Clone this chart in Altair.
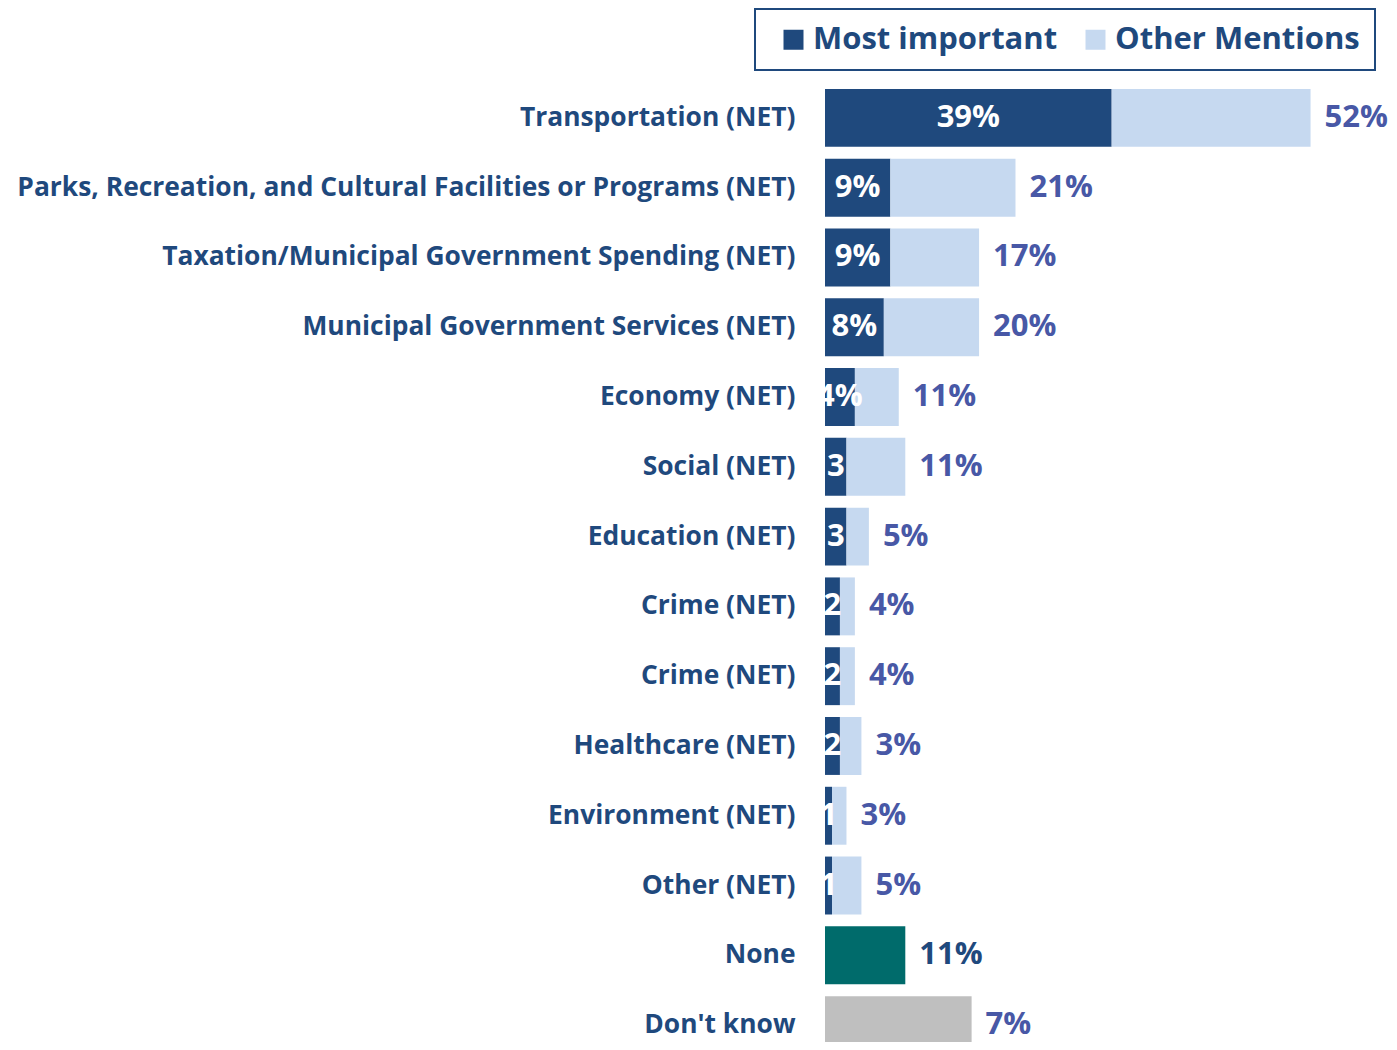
import altair as alt
import pandas as pd

categories = [
    "Transportation (NET)",
    "Parks, Recreation, and Cultural Facilities or Programs (NET)",
    "Taxation/Municipal Government Spending (NET)",
    "Municipal Government Services (NET)",
    "Economy (NET)",
    "Social (NET)",
    "Education (NET)",
    "Crime (NET)",
    "Crime (NET)",
    "Healthcare (NET)",
    "Environment (NET)",
    "Other (NET)",
    "None",
    "Don't know",
]
first_series = ["Most important"] * 12 + ["None", "Don't know"]
# bar lengths as drawn in the picture
first_segment = [30.7, 7.0, 7.0, 6.3, 3.2, 2.3, 2.3, 1.6, 1.6, 1.6, 0.75, 0.75, 8.6, 15.7]
other_mentions = [21.3, 13.4, 9.5, 10.2, 4.7, 6.3, 2.4, 1.6, 1.6, 2.3, 1.55, 3.15, 0, 0]
# printed labels
inner_labels = ["39%", "9%", "9%", "8%", "4%", "3", "3", "2", "2", "2", "1", "1", "", ""]
total_labels = ["52%", "21%", "17%", "20%", "11%", "11%", "5%", "4%", "4%", "3%", "3%", "5%", "11%", "7%"]

series_domain = ["Most important", "Other Mentions", "None", "Don't know"]
series_colors = ["#1f497d", "#c6d9f0", "#006b6b", "#bfbfbf"]

FONT = "Open Sans"
DARK = "#1f497d"
VALUE = "#4858a6"

rows = []
for i, cat in enumerate(categories):
    rows.append({"row": i, "series": first_series[i], "value": first_segment[i], "ord": 0})
    if other_mentions[i] > 0:
        rows.append({"row": i, "series": "Other Mentions", "value": other_mentions[i], "ord": 1})
bars_df = pd.DataFrame(rows)

lab_df = pd.DataFrame({
    "row": list(range(len(categories))),
    "inner": inner_labels,
    "total_label": total_labels,
    "mid": [v / 2 for v in first_segment],
    "total": [a + b for a, b in zip(first_segment, other_mentions)],
})

label_expr = "[" + ",".join("'" + c.replace("'", "\\'") + "'" for c in categories) + "][datum.value]"

y_scale = alt.Scale(paddingInner=0.17, paddingOuter=0.085, range=[0, 977])
y_enc = alt.Y(
    "row:O",
    sort="ascending",
    scale=y_scale,
    axis=alt.Axis(
        title=None, domain=False, ticks=False, labelPadding=30, labelLimit=900,
        labelFont=FONT, labelFontSize=26.4, labelFontWeight="bold", labelColor=DARK,
        labelExpr=label_expr,
    ),
)
x_scale = alt.Scale(domain=[0, 60.4], nice=False, zero=True)

bars = alt.Chart(bars_df).mark_bar(cornerRadius=0).encode(
    y=y_enc,
    x=alt.X("value:Q", stack="zero", scale=x_scale, axis=None),
    color=alt.Color(
        "series:N",
        scale=alt.Scale(domain=series_domain, range=series_colors),
        legend=alt.Legend(
            title=None, orient="none", legendX=-70, legendY=-74,
            direction="horizontal", values=["Most important", "Other Mentions"],
            symbolType="square", symbolSize=400, symbolStrokeWidth=0,
            labelFont=FONT, labelFontSize=31, labelFontWeight="bold", labelColor=DARK,
            labelLimit=500, labelOffset=4, columnPadding=14, padding=15,
            strokeColor=DARK, symbolOffset=8,
        ),
    ),
    order=alt.Order("ord:Q"),
)

inner = alt.Chart(lab_df).mark_text(
    font=FONT, fontSize=31, fontWeight="bold", color="white", align="center", baseline="middle"
).encode(
    y=alt.Y("row:O", sort="ascending", scale=y_scale),
    x=alt.X("mid:Q", scale=x_scale),
    text="inner:N",
)

totals = alt.Chart(lab_df).mark_text(
    font=FONT, fontSize=31, fontWeight="bold", align="left", baseline="middle", dx=14
).encode(
    y=alt.Y("row:O", sort="ascending", scale=y_scale),
    x=alt.X("total:Q", scale=x_scale),
    text="total_label:N",
    color=alt.condition(alt.datum.row == 12, alt.value(DARK), alt.value(VALUE)),
)

chart = alt.layer(bars, inner, totals).properties(
    width=564,
    height=959,
    padding={"left": 817, "top": 75, "right": 0, "bottom": 0},
    autosize=alt.AutoSizeParams(type="none"),
).configure_view(stroke=None).configure_legend(strokeWidth=2)

chart.save("out.html", embed_options={"renderer": "svg", "actions": False})
